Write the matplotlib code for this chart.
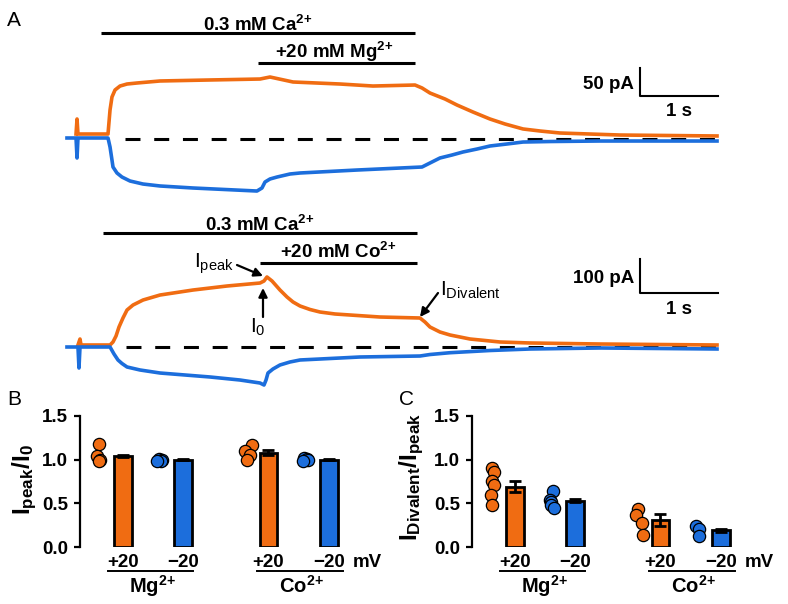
import matplotlib
matplotlib.use('Agg')
import matplotlib.pyplot as plt
import numpy as np

plt.rcParams['font.family'] = ['Liberation Sans', 'DejaVu Sans']
plt.rcParams['mathtext.fontset'] = 'custom'
plt.rcParams['mathtext.rm'] = 'Liberation Sans'
plt.rcParams['mathtext.it'] = 'Liberation Sans:italic'
plt.rcParams['mathtext.bf'] = 'Liberation Sans:bold'

# ---------------- Data: panel A traces (time in s, current in pA) ----------------
mg_pos_t = [-0.410, -0.397, -0.385, 0.000, 0.026, 0.051, 0.090, 0.154, 0.244, 0.372, 0.667, 1.308,
            1.949, 2.077, 2.372, 2.974, 3.397, 3.936, 4.026, 4.128, 4.321, 4.474, 4.679, 4.897,
            5.090, 5.321, 5.538, 5.795, 6.179, 6.564, 7.808]
mg_pos_i = [8.9, 35.7, 8.9, 8.9, 51.8, 75.0, 87.5, 94.6, 98.2, 100.0, 103.6, 105.4,
            107.1, 110.7, 101.8, 98.2, 94.6, 96.4, 91.1, 82.1, 71.4, 60.7, 48.2, 35.7,
            26.8, 17.9, 14.3, 10.7, 8.9, 7.1, 5.4]
mg_neg_t = [-0.526, -0.410, -0.397, -0.385, 0.000, 0.026, 0.051, 0.064, 0.115, 0.179, 0.282, 0.449,
            0.667, 1.090, 1.910, 1.974, 2.013, 2.077, 2.167, 2.333, 2.462, 3.192, 4.026, 4.103,
            4.256, 4.410, 4.551, 4.731, 4.897, 5.115, 5.321, 5.667, 6.308, 7.808]
mg_neg_i = [1.8, 1.8, -33.9, 1.8, 1.8, -14.3, -37.5, -50.0, -60.7, -67.9, -75.0, -80.4,
            -83.9, -87.5, -92.9, -87.5, -76.8, -71.4, -67.9, -62.5, -60.7, -55.4, -50.0, -44.6,
            -33.9, -28.6, -23.2, -17.9, -12.5, -8.9, -5.4, -4.5, -3.6, -3.6]
co_pos_t = [-0.385, -0.359, -0.346, 0.026, 0.064, 0.103, 0.141, 0.192, 0.244, 0.321, 0.449, 0.667,
            1.090, 1.526, 1.949, 2.000, 2.038, 2.103, 2.205, 2.295, 2.372, 2.462, 2.590, 2.718,
            2.910, 3.103, 3.487, 4.000, 4.064, 4.128, 4.256, 4.385, 4.513, 4.641, 4.769, 5.026,
            5.410, 6.308, 7.808]
co_pos_i = [5.9, 23.5, 5.9, 5.9, 14.7, 32.4, 58.8, 85.3, 108.8, 123.5, 138.2, 152.9,
            167.6, 179.4, 188.2, 194.1, 205.9, 194.1, 167.6, 147.1, 132.4, 120.6, 110.3, 102.9,
            97.1, 94.1, 88.2, 85.3, 73.5, 58.8, 44.1, 35.3, 29.4, 23.5, 20.6, 14.7,
            11.8, 8.8, 5.9]
co_neg_t = [-0.526, -0.385, -0.372, -0.359, 0.026, 0.077, 0.128, 0.179, 0.244, 0.410, 0.667, 1.308,
            1.692, 1.949, 2.000, 2.026, 2.051, 2.115, 2.205, 2.333, 2.462, 2.718, 3.231, 4.000,
            4.128, 4.385, 4.897, 5.410, 6.308, 7.808]
co_neg_i = [0.0, 0.0, -61.8, 0.0, 0.0, -20.6, -38.2, -48.5, -58.8, -67.6, -76.5, -88.2,
            -97.1, -105.9, -111.8, -97.1, -76.5, -64.7, -52.9, -44.1, -38.2, -35.3, -29.4, -26.5,
            -22.1, -16.8, -10.3, -5.9, -2.9, -5.9]

# ---------------- Data: panels B and C ----------------
groups = ['+20', '\u221220', '+20', '\u221220']
ions = ['$\\mathbf{Mg^{2\\!+}}$', '$\\mathbf{Co^{2\\!+}}$']
peak_mean = [1.04, 1.00, 1.08, 1.00]
peak_err = [0.015, 0.005, 0.03, 0.005]
peak_mg_pos = [1.18, 1.04, 1.00, 0.98]
peak_mg_neg = [1.01, 1.00, 0.99, 0.98]
peak_co_pos = [1.17, 1.10, 1.05, 1.00]
peak_co_neg = [1.02, 1.01, 1.00, 0.98]
div_mean = [0.69, 0.53, 0.31, 0.19]
div_err = [0.065, 0.02, 0.065, 0.02]
div_mg_pos = [0.91, 0.86, 0.76, 0.71, 0.59, 0.48]
div_mg_neg = [0.64, 0.54, 0.51, 0.48, 0.45]
div_co_pos = [0.44, 0.37, 0.28, 0.14]
div_co_neg = [0.24, 0.21, 0.13]

# ---------------- Style ----------------
ORANGE = '#F06C12'
BLUE = '#1C6EDC'
FS = 13.5
TLW = 2.6
W, H = 788, 604
fig = plt.figure(figsize=(W / 100, H / 100), dpi=100)


def fax(x0, y0, x1, y1):
    return fig.add_axes([x0 / W, 1 - y1 / H, (x1 - x0) / W, (y1 - y0) / H])


T0, PXS = 108, 78.0


def tx(x):
    return (x - T0) / PXS


def i_top(y):
    return (139 - y) * 50 / 28


def i_bot(y):
    return (347 - y) * 100 / 34


def trace_axes(y0, y1, iconv):
    ax = fax(60, y0, 730, y1)
    ax.set_xlim(tx(60), tx(730))
    ax.set_ylim(iconv(y1), iconv(y0))
    ax.axis('off')
    return ax


def bold(ax, x, y, s, **kw):
    kw.setdefault('fontsize', FS)
    ax.text(x, y, s, fontweight='bold', **kw)


def sol_bar(ax, x0, x1, y):
    ax.plot([tx(x0), tx(x1)], [y, y], color='k', lw=2.2, solid_capstyle='butt')


# ---- Top traces (Mg) ----
a1 = trace_axes(10, 200, i_top)
a1.plot([tx(125), tx(718)], [0, 0], color='k', lw=2.2, ls=(0, (4.9, 4.5)), zorder=1)
a1.plot(mg_pos_t, mg_pos_i, color=ORANGE, lw=TLW, zorder=2, solid_joinstyle='round')
a1.plot(mg_neg_t, mg_neg_i, color=BLUE, lw=TLW, zorder=2, solid_joinstyle='round')
sol_bar(a1, 101, 415, i_top(33.3))
bold(a1, tx(258), i_top(31), '$\\mathbf{0.3\\ mM\\ Ca^{2\\!+}}$', ha='center', va='baseline')
sol_bar(a1, 258, 415, i_top(63.3))
bold(a1, tx(334), i_top(57.5), '$\\mathbf{+20\\ mM\\ Mg^{2\\!+}}$', ha='center', va='baseline')
sb_t, sb_i = tx(640), i_top(96)
a1.plot([sb_t, sb_t, sb_t + 1], [sb_i + 50, sb_i, sb_i], color='k', lw=1.5)
bold(a1, tx(634), i_top(89), '50 pA', ha='right', va='baseline')
bold(a1, sb_t + 0.5, i_top(116), '1 s', ha='center', va='baseline')

# ---- Bottom traces (Co) ----
a2 = trace_axes(205, 395, i_bot)
a2.plot([tx(126), tx(718)], [0, 0], color='k', lw=2.2, ls=(0, (4.9, 4.5)), zorder=1)
a2.plot(co_pos_t, co_pos_i, color=ORANGE, lw=TLW, zorder=2, solid_joinstyle='round')
a2.plot(co_neg_t, co_neg_i, color=BLUE, lw=TLW, zorder=2, solid_joinstyle='round')
sol_bar(a2, 103, 417, i_bot(233.3))
bold(a2, tx(260), i_bot(231), '$\\mathbf{0.3\\ mM\\ Ca^{2\\!+}}$', ha='center', va='baseline')
sol_bar(a2, 260, 417, i_bot(262.7))
bold(a2, tx(338), i_bot(258), '$\\mathbf{+20\\ mM\\ Co^{2\\!+}}$', ha='center', va='baseline')
sb_t, sb_i = tx(640), i_bot(293)
a2.plot([sb_t, sb_t, sb_t + 1], [sb_i + 100, sb_i, sb_i], color='k', lw=1.5)
bold(a2, tx(634), i_bot(283), '100 pA', ha='right', va='baseline')
bold(a2, sb_t + 0.5, i_bot(314), '1 s', ha='center', va='baseline')

arrow = dict(arrowstyle='-|>', color='k', lw=1.6, mutation_scale=13, shrinkA=0, shrinkB=0)
a2.text(tx(194), i_bot(268), 'I$_{\\mathrm{peak}}$', fontsize=15, ha='left', va='baseline')
a2.annotate('', xy=(tx(263), i_bot(276)), xytext=(tx(237), i_bot(265)), arrowprops=arrow)
a2.text(tx(250), i_bot(333), 'I$_{\\mathrm{0}}$', fontsize=15, ha='left', va='baseline')
a2.annotate('', xy=(tx(263), i_bot(288)), xytext=(tx(263), i_bot(317)), arrowprops=arrow)
a2.text(tx(440), i_bot(296), 'I$_{\\mathrm{Divalent}}$', fontsize=15, ha='left', va='baseline')
a2.annotate('', xy=(tx(420), i_bot(317)), xytext=(tx(438), i_bot(293)), arrowprops=arrow)

# ---- Panel letters ----
fig.text(7 / W, 1 - 26 / H, 'A', fontsize=15, va='baseline')
fig.text(7 / W, 1 - 405 / H, 'B', fontsize=15, va='baseline')
fig.text(399 / W, 1 - 405 / H, 'C', fontsize=15, va='baseline')

# ---- Bar panels ----
POS = [0.0, 1.0, 2.42, 3.43]
COLS = [ORANGE, BLUE, ORANGE, BLUE]
PXU = 60.0  # px per x unit
YPX = 1.5 / 131.0


def bar_panel(x0, means, errs, pts, jit):
    ax = fax(x0, 416, x0 + 313, 547)
    ax.set_xlim(-0.717, 4.5)
    ax.set_ylim(0, 1.5)
    for s in ['top', 'right', 'bottom']:
        ax.spines[s].set_visible(False)
    ax.spines['left'].set_linewidth(1.6)
    ax.set_xticks([])
    ax.set_yticks([0, 0.5, 1.0, 1.5])
    ax.set_yticklabels(['0.0', '0.5', '1.0', '1.5'], fontweight='bold', fontsize=FS)
    ax.tick_params(axis='y', length=4.5, width=1.6, pad=4)
    ax.patch.set_alpha(0)
    ax.bar(POS, means, width=0.29, color=COLS, edgecolor='k', linewidth=2, zorder=2)
    ax.errorbar(POS, means, yerr=errs, fmt='none', ecolor='k', elinewidth=2,
                capsize=4.5, capthick=2, zorder=3)
    for p, c, vals, j in zip(POS, COLS, pts, jit):
        ax.scatter(p + np.array(j) / PXU, vals, s=78, color=c, edgecolors='k',
                   linewidths=0.9, zorder=4, clip_on=False)
    for p, g in zip(POS, groups):
        bold(ax, p, -20 * YPX, g, ha='center', va='baseline')
    bold(ax, 3.83, -20 * YPX, 'mV', ha='left', va='baseline')
    for (xa, xb), lab in zip([(-0.25, 1.167), (2.233, 3.667)], ions):
        ax.plot([xa, xb], [-24 * YPX, -24 * YPX], color='k', lw=1.4, clip_on=False)
        bold(ax, (xa + xb) / 2 + 0.03, -46 * YPX, lab, ha='center', va='baseline',
             fontsize=14.5)
    return ax


bar_panel(80, peak_mean, peak_err,
          [peak_mg_pos, peak_mg_neg, peak_co_pos, peak_co_neg],
          [[-24, -26, -23, -24], [-24, -21, -22, -26], [-16, -23, -18, -21], [-25, -22, -21, -26]])
bar_panel(472, div_mean, div_err,
          [div_mg_pos, div_mg_neg, div_co_pos, div_co_neg],
          [[-23, -21, -23, -21, -24, -23], [-22, -25, -24, -24, -21], [-22, -24, -18, -17], [-25, -22, -22]])

fig.text(25 / W, 1 - 480 / H, '$\\mathbf{I_{peak}/I_{0}}$', fontsize=17.5, rotation=90,
         ha='center', va='center')
fig.text(412 / W, 1 - 477 / H, '$\\mathbf{I_{Divalent}/I_{peak}}$', fontsize=17.5, rotation=90,
         ha='center', va='center')

fig.savefig('out.png', dpi=100)
